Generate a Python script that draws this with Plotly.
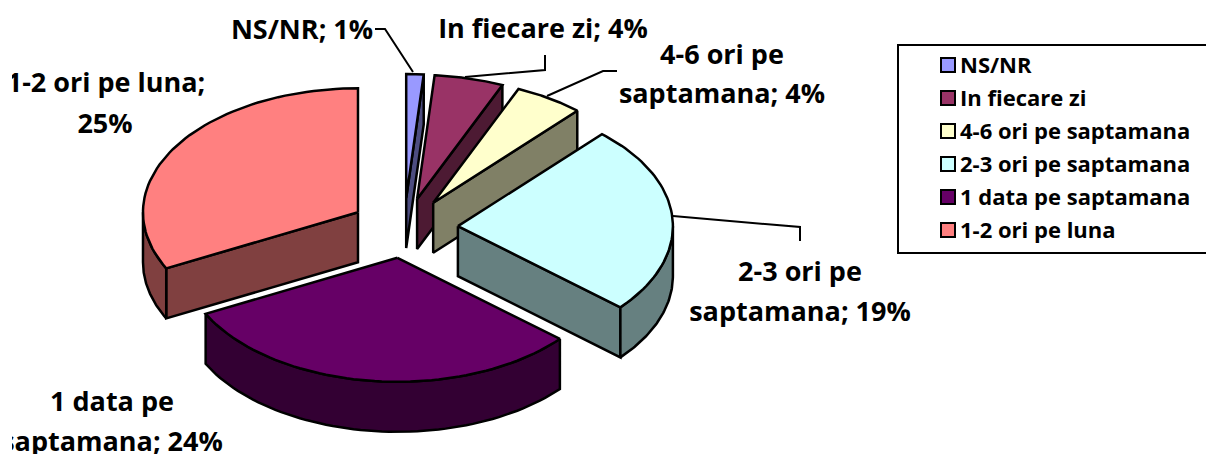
import numpy as np
import plotly.graph_objects as go

# date
categories = ["NS/NR", "In fiecare zi", "4-6 ori pe saptamana", "2-3 ori pe saptamana",
              "1 data pe saptamana", "1-2 ori pe luna"]
values = [1, 4, 4, 19, 24, 25]
top_colors = ["#9999FF", "#993366", "#FFFFCC", "#CCFFFF", "#660066", "#FF8080"]
side_colors = ["#4D4D80", "#4D1A33", "#808066", "#668080", "#330033", "#804040"]

FONT = "Open Sans"
LINE = dict(color="black", width=2.5)

# geometria pie-ului in pixeli
CX, CY = 404, 228
RX, RY = 215, 124
EX, EY = 54, 30
DEPTH = 50
DRAW_ORDER = [0, 1, 2, 5, 3, 4]
# pagina are o margine de 8px in jurul figurii
PAGE = 8
CLIP_LEFT = 12
# legenda
LEG_X, LEG_Y, LEG_STEP = 948, 65, 33


def arc(a, b, dx, dy, depth=0):
    t = np.radians(np.linspace(a, b, 60))
    return dx + CX + RX * np.sin(t), dy + CY - RY * np.cos(t) + depth


def poly(fig, x, y, color):
    fig.add_trace(go.Scatter(x=list(x), y=list(y), mode="lines", fill="toself", fillcolor=color,
                             line=LINE, showlegend=False, hoverinfo="skip"))


fig = go.Figure()

total = sum(values)
edges = np.cumsum([0] + values) / total * 360

for i in DRAW_ORDER:
    a, b = edges[i], edges[i + 1]
    mid = np.radians((a + b) / 2)
    dx, dy = EX * np.sin(mid), -EY * np.cos(mid)
    ax, ay = CX + dx, CY + dy

    # peretii taiati, doar cei vizibili
    for ang, show in [(a, np.sin(np.radians(a)) < -1e-6), (b, np.sin(np.radians(b)) > 1e-6)]:
        if show:
            ex = ax + RX * np.sin(np.radians(ang))
            ey = ay - RY * np.cos(np.radians(ang))
            poly(fig, [ax, ex, ex, ax, ax], [ay, ey, ey + DEPTH, ay + DEPTH, ay], side_colors[i])

    # peretele exterior
    lo, hi = max(a, 90), min(b, 270)
    if lo < hi:
        x1, y1 = arc(lo, hi, dx, dy)
        x2, y2 = arc(lo, hi, dx, dy, DEPTH)
        poly(fig, np.r_[x1, x2[::-1], x1[0]], np.r_[y1, y2[::-1], y1[0]], side_colors[i])

    # fata de sus
    x1, y1 = arc(a, b, dx, dy)
    poly(fig, np.r_[ax, x1, ax], np.r_[ay, y1, ay], top_colors[i])

# linii de legatura
leaders = [
    ([375, 385, 413], [29, 29, 72]),
    ([545, 545, 465], [55, 70, 77]),
    ([617, 603, 547], [71, 71, 96]),
    ([673, 800, 800], [216, 227, 241]),
]
for lx, ly in leaders:
    fig.add_trace(go.Scatter(x=lx, y=ly, mode="lines", line=dict(color="black", width=2),
                             showlegend=False, hoverinfo="skip"))

# etichete, cate un rand pe punct
label_rows = [
    (f"{categories[0]}; {values[0]}%", 302, 32),
    (f"{categories[1]}; {values[1]}%", 543, 31),
    ("4-6 ori pe", 722, 57),
    (f"saptamana; {values[2]}%", 722, 96),
    ("2-3 ori pe", 800, 274),
    (f"saptamana; {values[3]}%", 800, 314),
    ("1 data pe", 112, 404),
    (f"saptamana; {values[4]}%", 112, 444),
    ("1-2 ori pe luna;", 106, 85),
    (f"{values[5]}%", 105, 126),
]
fig.add_trace(go.Scatter(x=[r[1] for r in label_rows], y=[r[2] for r in label_rows],
                         text=[r[0] for r in label_rows], mode="text", textposition="middle center",
                         textfont=dict(family=FONT, size=27, color="black", weight="bold"),
                         cliponaxis=True, showlegend=False, hoverinfo="skip"))

# legenda, patrate si texte pe randuri
leg_rows = [LEG_Y + LEG_STEP * i for i in range(len(categories))]
fig.add_trace(go.Scatter(x=[LEG_X] * len(categories), y=leg_rows, mode="markers",
                         marker=dict(symbol="square", size=14, color=top_colors,
                                     line=dict(color="black", width=2)),
                         showlegend=False, hoverinfo="skip"))
fig.add_trace(go.Scatter(x=[LEG_X + 12] * len(categories), y=[v + 2 for v in leg_rows], mode="text",
                         text=categories, textposition="middle right",
                         textfont=dict(family=FONT, size=22, color="black", weight="bold"),
                         showlegend=False, hoverinfo="skip"))

fig.update_layout(
    width=1214, height=454,
    margin=dict(l=CLIP_LEFT - PAGE, r=0, t=0, b=0),
    paper_bgcolor="white", plot_bgcolor="white",
    showlegend=False,
    xaxis=dict(range=[CLIP_LEFT, PAGE + 1214], visible=False, fixedrange=True),
    yaxis=dict(range=[PAGE + 454, PAGE], visible=False, fixedrange=True),
    # marginea dreapta a cutiei iese din pagina
    shapes=[dict(type="rect", x0=898, x1=1220, y0=45, y1=253, fillcolor="white",
                 line=dict(color="black", width=2), layer="below")],
)

fig.write_html("out.html")
